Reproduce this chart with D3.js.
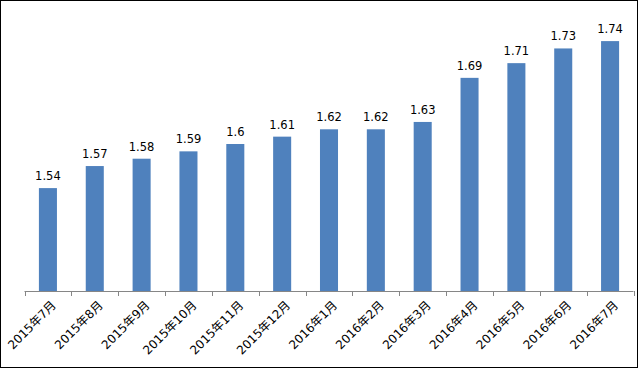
<!DOCTYPE html>
<html>
<head>
<meta charset="utf-8">
<script src="https://cdn.jsdelivr.net/npm/d3@7"></script>
<style>
  body { margin: 0; background: #fff; }
  svg { display: block; }
</style>
</head>
<body>
<div id="chart"></div>
<script>
var months = ['2015年7月', '2015年8月', '2015年9月', '2015年10月', '2015年11月', '2015年12月',
  '2016年1月', '2016年2月', '2016年3月', '2016年4月', '2016年5月', '2016年6月', '2016年7月'];
var values = [1.54, 1.57, 1.58, 1.59, 1.6, 1.61, 1.62, 1.62, 1.63, 1.69, 1.71, 1.73, 1.74];

var width = 638;
var height = 368;
var fontStack = '"DejaVu Sans", "Noto Sans CJK SC", sans-serif';

var svg = d3.select('#chart')
  .append('svg')
  .attr('width', width)
  .attr('height', height);

svg.append('rect')
  .attr('x', 0.5).attr('y', 0.5)
  .attr('width', width - 1).attr('height', height - 1)
  .attr('fill', '#fff')
  .attr('stroke', '#000');

var x = d3.scaleBand()
  .domain(months)
  .range([24.5, 633.5])
  .padding(0);

var y = d3.scaleLinear()
  .domain([1.4, 1.75])
  .range([291, 33.75]);

var barW = x.bandwidth() * 0.385;

svg.selectAll('.bar')
  .data(values)
  .enter()
  .append('rect')
  .attr('class', 'bar')
  .attr('x', function(d, i) { return x(months[i]) + x.bandwidth() / 2 - barW / 2; })
  .attr('y', function(d) { return y(d); })
  .attr('width', barW)
  .attr('height', function(d) { return y(1.4) - y(d); })
  .attr('fill', '#4F81BD');

svg.selectAll('.val')
  .data(values)
  .enter()
  .append('text')
  .attr('class', 'val')
  .attr('x', function(d, i) { return x(months[i]) + x.bandwidth() / 2; })
  .attr('y', function(d) { return y(d) - 8; })
  .attr('text-anchor', 'middle')
  .style('font-family', fontStack)
  .style('font-size', '11.5px')
  .style('fill', '#000')
  .text(function(d) { return d; });

// x axis: line + ticks between categories
var axis = svg.append('g')
  .attr('transform', 'translate(0,291)')
  .call(d3.axisBottom(x).tickSize(0).tickFormat(''));
axis.select('.domain').attr('stroke', '#868686').attr('d', 'M24.5,0.5H633.5');

var tickPos = months.map(function(m) { return x(m); }).concat([x.range()[1]]);
svg.selectAll('.tk')
  .data(tickPos)
  .enter()
  .append('line')
  .attr('x1', function(d) { return Math.round(d) + 0.5; })
  .attr('x2', function(d) { return Math.round(d) + 0.5; })
  .attr('y1', 291)
  .attr('y2', 296)
  .attr('stroke', '#868686');

svg.selectAll('.xl')
  .data(months)
  .enter()
  .append('text')
  .attr('class', 'xl')
  .attr('transform', function(d) {
    return 'translate(' + (x(d) + x.bandwidth() / 2 + 3) + ',300) rotate(-45)';
  })
  .attr('text-anchor', 'end')
  .attr('dy', '0.7em')
  .style('font-family', fontStack)
  .style('font-size', '12px')
  .style('fill', '#000')
  .text(function(d) { return d; });
</script>
</body>
</html>
